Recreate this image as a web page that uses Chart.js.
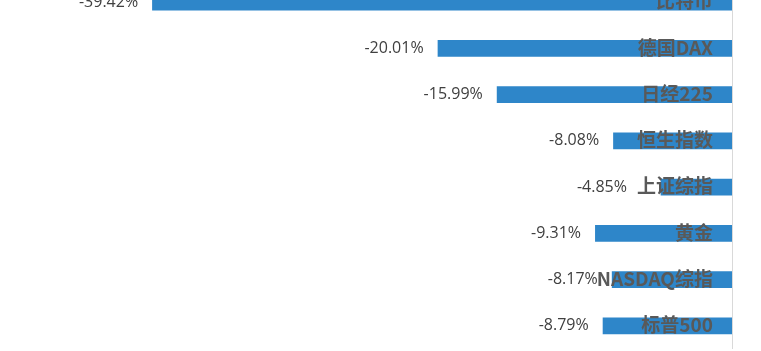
<!DOCTYPE html>
<html>
<head>
<meta charset="utf-8">
<script src="https://cdn.jsdelivr.net/npm/chart.js@4.4.0/dist/chart.umd.min.js"></script>
<style>
  html, body { margin: 0; padding: 0; background: #fff; overflow: hidden; }
  #wrap { position: absolute; left: 0; top: -21px; width: 761px; height: 370px; }
</style>
</head>
<body>
<div id="wrap"><canvas id="myChart"></canvas></div>
<script>
// 分类和数值 (从上到下)
const categories = ['比特币', '德国DAX', '日经225', '恒生指数', '上证综指', '黄金', 'NASDAQ综指', '标普500']
const values = [-39.42, -20.01, -15.99, -8.08, -4.85, -9.31, -8.17, -8.79]
const valueLabels = ['-39.42%', '-20.01%', '-15.99%', '-8.08%', '-4.85%', '-9.31%', '-8.17%', '-8.79%']

const barColor = '#2e86c9'

// 标签和零线
const labelPlugin = {
  id: 'labels',
  afterDatasetsDraw(chart) {
    const ctx = chart.ctx
    const xs = chart.scales.x
    const zeroX = xs.getPixelForValue(0)
    const area = chart.chartArea
    ctx.save()
    ctx.strokeStyle = '#d9d9d9'
    ctx.lineWidth = 1
    ctx.beginPath()
    ctx.moveTo(Math.round(zeroX) + 0.5, area.top)
    ctx.lineTo(Math.round(zeroX) + 0.5, area.bottom)
    ctx.stroke()

    const meta = chart.getDatasetMeta(0)
    meta.data.forEach((bar, i) => {
      ctx.textBaseline = 'middle'
      ctx.textAlign = 'right'
      // 分类名
      ctx.fillStyle = '#595959'
      ctx.font = 'bold 19px "Noto Sans CJK SC", "Noto Sans", sans-serif'
      const catRight = zeroX - 19
      const catLeft = catRight - ctx.measureText(categories[i]).width
      ctx.fillText(categories[i], catRight, bar.y - 1)
      // 数值, 太靠近分类名就往左挪
      let vx = bar.x - 14
      if (catLeft < bar.x - 20) vx = catLeft - 10
      ctx.fillStyle = '#404040'
      ctx.font = '16px "Open Sans", "Noto Sans", sans-serif'
      ctx.fillText(valueLabels[i], vx, bar.y)
    })
    ctx.restore()
  }
}

const config = {
  type: 'bar',
  data: {
    labels: categories,
    datasets: [{
      data: values,
      backgroundColor: barColor,
      borderWidth: 0,
      barPercentage: 0.36,
      categoryPercentage: 1
    }]
  },
  options: {
    indexAxis: 'y',
    responsive: true,
    maintainAspectRatio: false,
    animation: false,
    layout: { padding: { left: 0, right: 29, top: 0, bottom: 0 } },
    plugins: {
      legend: { display: false },
      tooltip: { enabled: false }
    },
    scales: {
      x: { display: false, min: -49.76, max: 0 },
      y: { display: false }
    }
  },
  plugins: [labelPlugin]
}

const myChart = new Chart(document.getElementById('myChart'), config)
</script>
</body>
</html>
